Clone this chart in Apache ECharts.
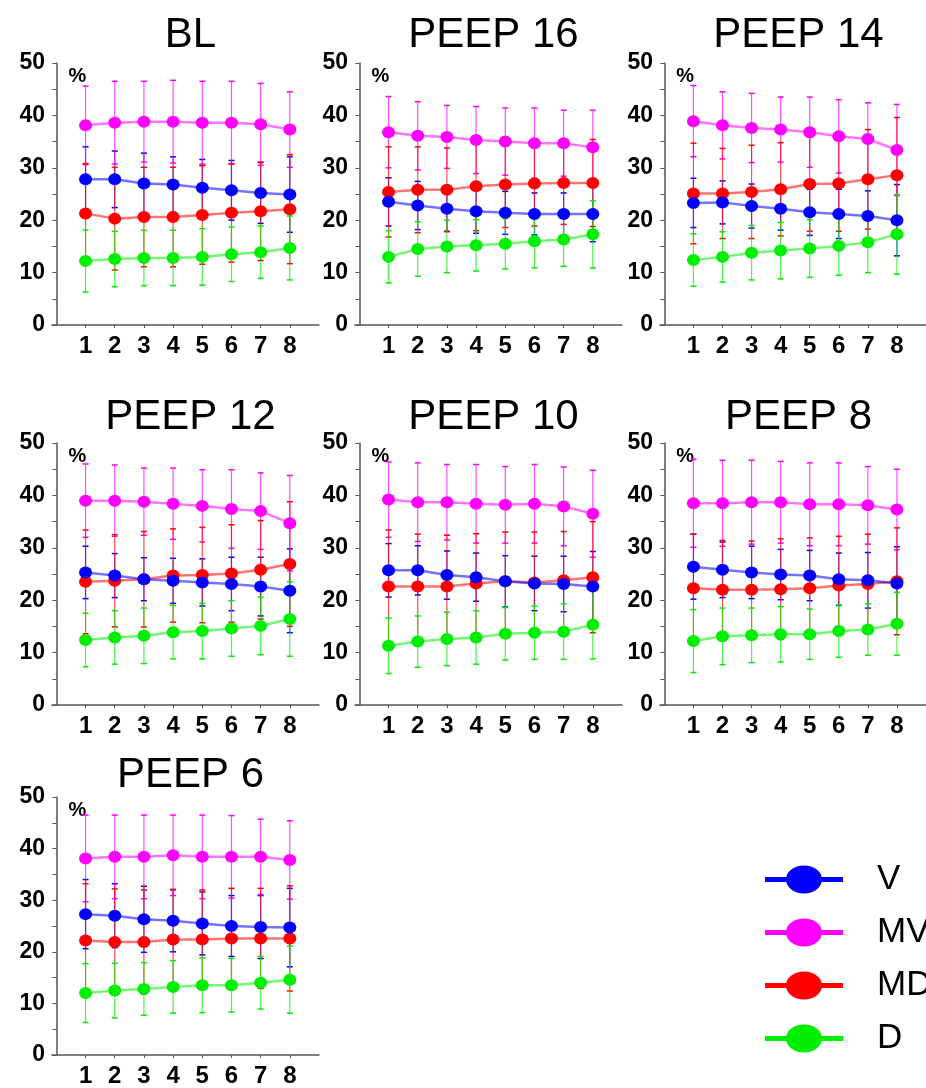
<!DOCTYPE html>
<html>
<head>
<meta charset="utf-8">
<title>EIT regional ventilation by PEEP step</title>
<script src="https://cdn.jsdelivr.net/npm/echarts@6.0.0/dist/echarts.min.js"></script>
<style>
    html, body { margin: 0; padding: 0; background: #fff; }
    #main { width: 926px; height: 1088px; }
</style>
</head>
<body>
<div id="main"></div>
<script>
// breath index on the x axis
const xCats = [1, 2, 3, 4, 5, 6, 7, 8];
const yTicks = [0, 10, 20, 30, 40, 50];
const panelTitles = ['BL', 'PEEP 16', 'PEEP 14', 'PEEP 12', 'PEEP 10', 'PEEP 8', 'PEEP 6'];
const seriesNames = ['V', 'MV', 'MD', 'D'];

// one row per panel (BL, PEEP 16 ... PEEP 6), values in %
const vMean = [
    [27.8, 27.8, 27.0, 26.8, 26.2, 25.7, 25.2, 24.9],
    [23.5, 22.8, 22.2, 21.7, 21.4, 21.2, 21.2, 21.2],
    [23.3, 23.4, 22.7, 22.2, 21.5, 21.2, 20.8, 20.0],
    [25.3, 24.7, 24.0, 23.7, 23.4, 23.1, 22.6, 21.8],
    [25.7, 25.7, 24.8, 24.4, 23.6, 23.2, 23.1, 22.6],
    [26.4, 25.8, 25.3, 24.9, 24.7, 24.0, 23.8, 23.2],
    [27.3, 27.0, 26.3, 26.0, 25.5, 25.0, 24.8, 24.7]
];
const vSd = [
    [6.2, 5.4, 5.8, 5.3, 5.4, 5.7, 5.8, 7.2],
    [4.6, 4.6, 4.3, 4.2, 4.1, 4.0, 4.0, 5.3],
    [4.7, 4.1, 4.2, 4.1, 4.4, 4.7, 4.8, 6.8],
    [5.0, 4.2, 4.1, 4.3, 4.5, 5.1, 5.6, 8.0],
    [5.1, 4.7, 4.6, 4.6, 4.9, 5.2, 5.3, 6.7],
    [6.2, 5.3, 5.0, 4.8, 4.8, 5.0, 5.3, 7.0],
    [6.7, 6.2, 6.4, 6.0, 6.1, 5.9, 6.1, 7.6]
];
const mvMean = [
    [38.1, 38.6, 38.8, 38.8, 38.6, 38.6, 38.3, 37.3],
    [36.8, 36.1, 35.9, 35.3, 35.0, 34.7, 34.7, 33.9],
    [38.9, 38.1, 37.6, 37.3, 36.8, 36.0, 35.5, 33.4],
    [39.0, 39.0, 38.8, 38.4, 38.0, 37.4, 37.0, 34.7],
    [39.2, 38.7, 38.7, 38.4, 38.2, 38.4, 37.9, 36.5],
    [38.5, 38.5, 38.7, 38.7, 38.3, 38.3, 38.1, 37.3],
    [38.1, 38.4, 38.4, 38.7, 38.4, 38.4, 38.4, 37.8]
];
const mvSd = [
    [7.5, 7.9, 7.7, 7.9, 7.9, 7.9, 7.8, 7.2],
    [6.8, 6.5, 6.0, 6.4, 6.4, 6.7, 6.3, 7.1],
    [6.8, 6.4, 6.6, 6.2, 6.7, 7.0, 6.9, 8.7],
    [7.0, 6.8, 6.4, 6.8, 6.9, 7.5, 7.3, 9.1],
    [7.2, 7.5, 7.2, 7.5, 7.3, 7.5, 7.5, 8.3],
    [8.4, 8.2, 8.0, 7.8, 7.9, 7.9, 7.4, 7.7],
    [8.4, 8.1, 8.1, 7.8, 8.1, 8.0, 7.3, 7.6]
];
const mdMean = [
    [21.3, 20.3, 20.6, 20.6, 21.0, 21.4, 21.7, 22.1],
    [25.4, 25.8, 25.8, 26.5, 26.8, 27.0, 27.1, 27.1],
    [25.1, 25.1, 25.4, 25.9, 26.9, 27.0, 27.8, 28.6],
    [23.5, 23.7, 24.0, 24.7, 24.8, 25.1, 25.8, 26.9],
    [22.6, 22.6, 22.6, 23.2, 23.6, 23.4, 23.8, 24.4],
    [22.3, 22.0, 22.0, 22.1, 22.3, 22.8, 23.1, 23.6],
    [22.2, 21.9, 21.9, 22.4, 22.4, 22.6, 22.6, 22.6]
];
const mdSd = [
    [9.5, 9.8, 9.5, 9.5, 9.4, 9.4, 9.4, 10.4],
    [8.6, 8.2, 8.0, 8.5, 8.2, 8.1, 7.9, 8.3],
    [9.6, 8.6, 8.9, 8.9, 9.0, 9.1, 9.5, 11.0],
    [9.9, 8.8, 9.1, 8.9, 9.1, 9.3, 9.4, 11.9],
    [10.8, 10.0, 9.8, 9.5, 9.4, 9.6, 9.3, 10.6],
    [10.3, 9.4, 9.3, 9.6, 9.6, 9.4, 9.5, 10.2],
    [11.0, 10.3, 10.1, 9.7, 9.6, 9.7, 9.7, 10.2]
];
const dMean = [
    [12.2, 12.6, 12.8, 12.8, 13.0, 13.5, 13.9, 14.7],
    [13.0, 14.5, 15.0, 15.2, 15.5, 16.0, 16.3, 17.3],
    [12.4, 13.0, 13.8, 14.2, 14.6, 15.1, 15.8, 17.3],
    [12.4, 12.9, 13.2, 13.9, 14.1, 14.6, 15.1, 16.4],
    [11.3, 12.1, 12.6, 12.9, 13.6, 13.8, 14.0, 15.3],
    [12.2, 13.1, 13.3, 13.5, 13.5, 14.1, 14.4, 15.5],
    [12.0, 12.5, 12.8, 13.2, 13.5, 13.5, 14.0, 14.6]
];
const dSd = [
    [5.9, 5.3, 5.3, 5.3, 5.4, 5.2, 5.0, 6.1],
    [5.0, 5.2, 5.0, 4.9, 4.8, 5.1, 5.1, 6.4],
    [5.0, 4.8, 5.2, 5.4, 5.5, 5.6, 5.8, 7.6],
    [5.1, 5.1, 5.3, 5.1, 5.3, 5.3, 5.5, 7.1],
    [5.3, 4.9, 5.1, 5.1, 5.0, 5.1, 5.3, 6.5],
    [6.0, 5.4, 5.2, 5.3, 4.8, 5.0, 4.9, 6.0],
    [5.7, 5.3, 5.1, 5.1, 5.3, 5.2, 5.1, 6.5]
];

const groups = [
    { name: 'V', mean: vMean, sd: vSd, color: '#0000ff' },
    { name: 'MV', mean: mvMean, sd: mvSd, color: '#ff00ff' },
    { name: 'MD', mean: mdMean, sd: mdSd, color: '#ff0000' },
    { name: 'D', mean: dMean, sd: dSd, color: '#00ee00' }
];
// draw order of the lines (last is on top)
const drawOrder = ['D', 'MD', 'V', 'MV'];

const FONT = "'Liberation Sans', Arial, sans-serif";
const AXIS_COLOR = '#555';

// panel layout: 3 columns, 3 rows
const colLeft = [52, 355, 660];
const rowTop = [63, 443, 797];
const titleTop = [9, 391, 749];
const gridW = 267;
const gridH = 262;

// error bar drawn with the axis scales
function renderErrorBar (params, api) {
    const x = api.value(0);
    const lo = api.coord([x, api.value(1)]);
    const hi = api.coord([x, api.value(2)]);
    const cap = 3;
    const color = api.visual('color');
    return {
        type: 'group',
        children: [
            { type: 'line', shape: { x1: lo[0], y1: lo[1], x2: hi[0], y2: hi[1] },
              style: { stroke: color, lineWidth: 1.2, opacity: 0.7 } },
            { type: 'line', shape: { x1: hi[0] - cap, y1: hi[1], x2: hi[0] + cap, y2: hi[1] },
              style: { stroke: color, lineWidth: 1.5 } },
            { type: 'line', shape: { x1: lo[0] - cap, y1: lo[1], x2: lo[0] + cap, y2: lo[1] },
              style: { stroke: color, lineWidth: 1.5 } }
        ]
    };
}

const grids = [], xAxes = [], yAxes = [], titles = [], series = [];

panelTitles.forEach(function (title, p) {
    const col = p % 3, row = Math.floor(p / 3);
    grids.push({ left: colLeft[col], top: rowTop[row], width: gridW, height: gridH });
    titles.push({
        text: title, left: colLeft[col] + gridW / 2, top: titleTop[row], textAlign: 'center',
        textStyle: { fontFamily: FONT, fontSize: 42, fontWeight: 'normal', color: '#000' }
    });
    xAxes.push({
        type: 'value', gridIndex: p, min: -0.15, max: 9,
        axisLine: { show: true, lineStyle: { color: AXIS_COLOR, width: 1.5 } },
        axisTick: { show: true, length: 3, customValues: xCats, lineStyle: { color: AXIS_COLOR } },
        axisLabel: { customValues: xCats, fontFamily: FONT, fontSize: 24, fontWeight: 'bold', color: '#000', margin: 9 },
        splitLine: { show: false }
    });
    yAxes.push({
        type: 'value', gridIndex: p, min: 0, max: 50, interval: 10,
        name: '%', nameLocation: 'end', nameGap: -3,
        nameTextStyle: { fontFamily: FONT, fontSize: 20, fontWeight: 'bold', color: '#000',
                         align: 'left', verticalAlign: 'top', padding: [0, 0, 0, 12] },
        axisLine: { show: true, lineStyle: { color: AXIS_COLOR, width: 1.5 } },
        axisTick: { show: true, length: 4, lineStyle: { color: AXIS_COLOR } },
        minorTick: { show: true, splitNumber: 2, length: 4, lineStyle: { color: AXIS_COLOR } },
        axisLabel: { customValues: yTicks, fontFamily: FONT, fontSize: 23, fontWeight: 'bold', color: '#000', margin: 7 },
        splitLine: { show: false }
    });

    // error bars first, under the lines
    groups.forEach(function (g) {
        series.push({
            type: 'custom', name: g.name, xAxisIndex: p, yAxisIndex: p,
            color: g.color, renderItem: renderErrorBar, silent: true,
            encode: { x: 0, y: [1, 2] },
            data: xCats.map((x, i) => [x, g.mean[p][i] - g.sd[p][i], g.mean[p][i] + g.sd[p][i]])
        });
    });
    drawOrder.forEach(function (nm) {
        const g = groups.find(o => o.name === nm);
        series.push({
            type: 'line', name: g.name, xAxisIndex: p, yAxisIndex: p,
            color: g.color, symbol: 'circle', symbolSize: [13, 12],
            lineStyle: { width: 2.5, opacity: 0.55 },
            itemStyle: { color: g.color },
            animation: false,
            data: xCats.map((x, i) => [x, g.mean[p][i]])
        });
    });
});

const chart = echarts.init(document.getElementById('main'), null, { renderer: 'canvas' });
chart.setOption({
    animation: false,
    backgroundColor: '#fff',
    title: titles,
    grid: grids,
    xAxis: xAxes,
    yAxis: yAxes,
    legend: {
        data: seriesNames,
        orient: 'vertical',
        left: 765, top: 862, padding: 0,
        itemWidth: 78, itemHeight: 28, itemGap: 18,
        // line with an oval marker
        icon: 'path://M0,11.5 L78,11.5 L78,16.5 L0,16.5 Z M21,14 A18,14 0 1 1 57,14 A18,14 0 1 1 21,14 Z',
        textStyle: { fontFamily: FONT, fontSize: 35, color: '#000', padding: [0, 0, 0, 29] }
    },
    series: series
});
</script>
</body>
</html>
